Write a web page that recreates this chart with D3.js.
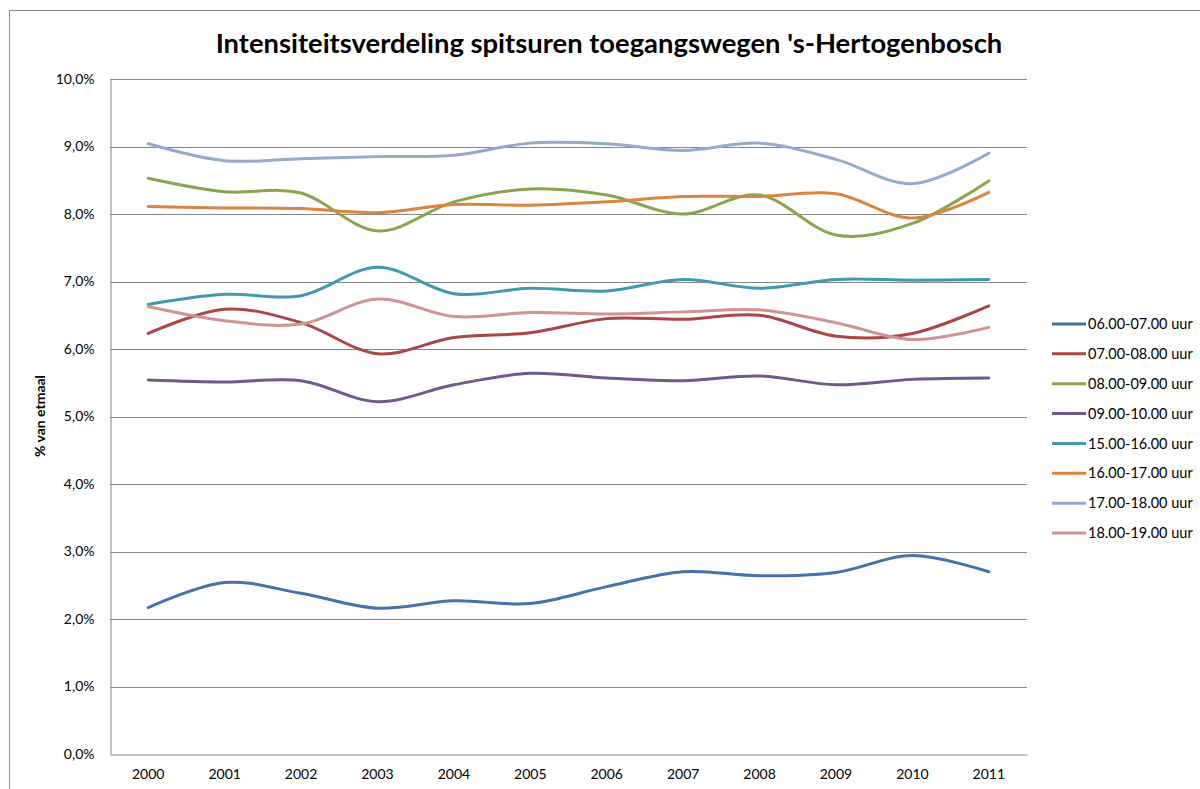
<!DOCTYPE html>
<html>
<head>
<meta charset="utf-8">
<script src="https://cdn.jsdelivr.net/npm/d3@7/dist/d3.min.js"></script>
<style>
html,body{margin:0;padding:0;background:#fff;}
svg{display:block;}
text{font-family:"Lato","Liberation Sans",sans-serif;fill:#000;}
</style>
</head>
<body>
<svg id="chart" width="1200" height="789"></svg>
<script>
const title = "Intensiteitsverdeling spitsuren toegangswegen 's-Hertogenbosch";
const yTitle = "% van etmaal";
const years = ["2000","2001","2002","2003","2004","2005","2006","2007","2008","2009","2010","2011"];
const yTicks = [0,1,2,3,4,5,6,7,8,9,10];
const seriesNames = ["06.00-07.00 uur","07.00-08.00 uur","08.00-09.00 uur","09.00-10.00 uur","15.00-16.00 uur","16.00-17.00 uur","17.00-18.00 uur","18.00-19.00 uur"];
const seriesColors = ["#4572A7","#AA4643","#89A54E","#71588F","#4198AF","#DB843D","#93A9CF","#D19392"];
const s0607 = [2.17,2.54,2.38,2.16,2.27,2.23,2.48,2.70,2.64,2.69,2.94,2.70];
const s0708 = [6.23,6.59,6.39,5.93,6.17,6.24,6.45,6.44,6.50,6.19,6.23,6.64];
const s0809 = [8.53,8.33,8.31,7.75,8.18,8.37,8.28,8.00,8.28,7.69,7.86,8.49];
const s0910 = [5.54,5.51,5.53,5.22,5.47,5.64,5.57,5.53,5.60,5.47,5.55,5.57];
const s1516 = [6.66,6.81,6.79,7.21,6.82,6.90,6.86,7.03,6.90,7.03,7.02,7.03];
const s1617 = [8.11,8.09,8.08,8.02,8.14,8.13,8.18,8.26,8.26,8.30,7.94,8.32];
const s1718 = [9.04,8.79,8.82,8.85,8.87,9.05,9.04,8.94,9.05,8.81,8.45,8.90];
const s1819 = [6.63,6.42,6.37,6.74,6.48,6.54,6.52,6.55,6.58,6.39,6.14,6.32];
const seriesValues = [s0607,s0708,s0809,s0910,s1516,s1617,s1718,s1819];

const svg = d3.select("#chart");
const plot = {left:110, right:1027, top:79, bottom:754};
const font = "Lato, 'Liberation Sans', sans-serif";

// outer chart-area border
svg.append("rect").attr("x",9.5).attr("y",10.5).attr("width",1300).attr("height",900)
  .attr("fill","none").attr("stroke","#8c8c8c").attr("stroke-width",1);

const x = d3.scaleBand().domain(years).range([plot.left, plot.right]);
const y = d3.scaleLinear().domain([0,10]).range([plot.bottom, plot.top]);

// gridlines
svg.append("g").selectAll("line").data(yTicks.filter(d=>d>0)).join("line")
  .attr("x1",plot.left).attr("x2",plot.right)
  .attr("y1",d=>Math.round(y(d))+0.5).attr("y2",d=>Math.round(y(d))+0.5)
  .attr("stroke","#868686").attr("stroke-width",1);

// axes
const yAxis = d3.axisLeft(y).tickValues(yTicks).tickSize(0).tickPadding(16)
  .tickFormat(d=>d.toFixed(1).replace(".",",")+"%");
const gy = svg.append("g").attr("transform",`translate(${plot.left+0.5},0)`).call(yAxis);
gy.select(".domain").attr("stroke","#868686").attr("stroke-width",1);
gy.selectAll("text").attr("font-size",14).attr("fill","#000").style("font-family",font);

const xAxis = d3.axisBottom(x).tickSize(0).tickPadding(15);
const gx = svg.append("g").attr("transform",`translate(0,${plot.bottom+0.5})`).call(xAxis);
gx.select(".domain").attr("stroke","#868686").attr("stroke-width",1);
gx.selectAll("text").attr("font-size",14).attr("fill","#000").style("font-family",font);

// lines
const line = d3.line()
  .x((d,i)=>x(years[i])+x.bandwidth()/2)
  .y(d=>y(d))
  .curve(d3.curveCardinal.tension(0));
svg.append("g").selectAll("path").data(seriesValues).join("path")
  .attr("d",line).attr("fill","none")
  .attr("stroke",(d,i)=>seriesColors[i]).attr("stroke-width",3)
  .attr("stroke-linecap","round").attr("stroke-linejoin","round");

// legend
const legend = svg.append("g");
const ly = d3.scalePoint().domain(seriesNames).range([324,533]);
seriesNames.forEach((n,i)=>{
  legend.append("line").attr("x1",1052).attr("x2",1086)
    .attr("y1",ly(n)).attr("y2",ly(n))
    .attr("stroke",seriesColors[i]).attr("stroke-width",3);
  legend.append("text").attr("x",1088).attr("y",ly(n)).attr("dy","0.35em")
    .attr("font-size",14.5).text(n);
});

// title
const t = svg.append("text").attr("x",609).attr("y",53).attr("text-anchor","middle")
  .attr("font-weight","bold").attr("font-size",24).text(title);
const w = t.node().getComputedTextLength();
t.attr("font-size", 24*787/w);

// y title
svg.append("text").attr("transform","translate(45,416) rotate(-90)")
  .attr("text-anchor","middle").attr("font-weight","bold").attr("font-size",14).text(yTitle);
</script>
</body>
</html>
